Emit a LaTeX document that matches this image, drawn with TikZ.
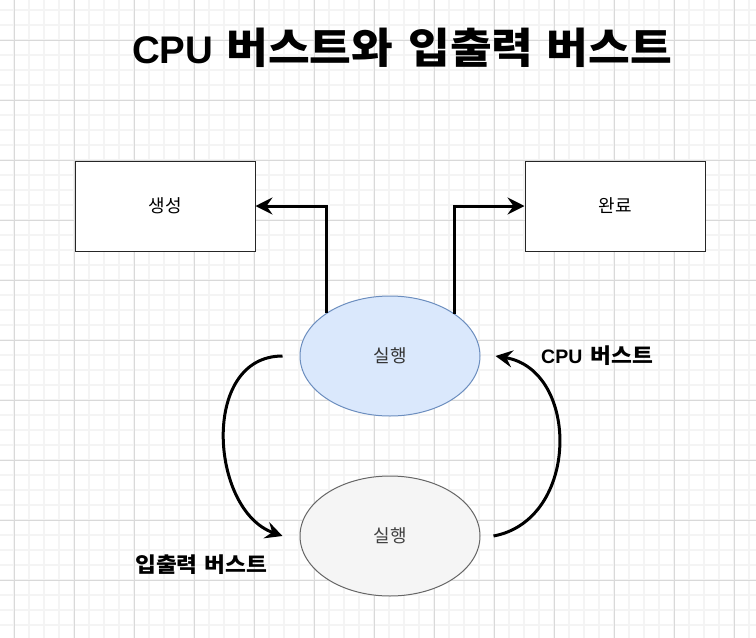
\documentclass[tikz,border=0pt]{standalone}
\usepackage{fontspec}
\usepackage{graphicx}
\setmainfont{Liberation Sans}
\newfontfamily\kr{Noto Sans CJK KR}
\newcommand{\kwide}[1]{\scalebox{1.08}[1]{#1}}
\usetikzlibrary{arrows.meta,shapes.geometric}
\definecolor{topfill}{HTML}{DAE8FC}
\definecolor{topline}{HTML}{6C8EBF}
\definecolor{botfill}{HTML}{F5F5F5}
\definecolor{botline}{HTML}{666666}
\definecolor{majgrid}{HTML}{D9D9D9}
\definecolor{mingrid}{HTML}{F4F4F4}
\tikzset{
  majorline/.style={draw=majgrid,line width=1pt},
  minorline/.style={draw=mingrid,line width=1.5pt},
  box/.style={draw=black!85,line width=1pt,fill=white,minimum width=180pt,minimum height=90pt,inner sep=0pt,font=\kr\fontsize{18}{20}\selectfont},
  oval/.style={ellipse,line width=1pt,minimum width=180pt,minimum height=120pt,inner sep=0pt,font=\kr\fontsize{18}{20}\selectfont},
  conn/.style={line width=3pt,-{Stealth[length=17pt,width=17pt,inset=6pt]}},
  lbl/.style={inner sep=0pt,font=\bfseries},
}
\begin{document}
\begin{tikzpicture}[x=1pt,y=-1pt]
\useasboundingbox (0,0) rectangle (756,638);
\fill[white] (0,0) rectangle (756,638);
% grid
\foreach \k in {0,...,51} { \draw[minorline] ({-1+15*\k},0) -- ({-1+15*\k},638); }
\foreach \k in {0,...,43} { \draw[minorline] (0,{-5+15*\k}) -- (756,{-5+15*\k}); }
\foreach \k in {0,...,12} { \draw[majorline] ({14+60*\k},0) -- ({14+60*\k},638); }
\foreach \k in {0,...,10} { \draw[majorline] (0,{40+60*\k}) -- (756,{40+60*\k}); }

% title
\node[lbl,anchor=west] (title) at (132,48) {\fontsize{38.5}{42}\selectfont CPU\hspace{13pt}{\kr\bfseries\fontsize{42}{44}\selectfont \kwide{버스트와}\hspace{15pt}\kwide{입출력}\hspace{13pt}\kwide{버스트}}};

% nodes
\node[box] (gen) at (165,206) {생성};
\node[box] (done) at (615,206) {완료};
\node[oval,draw=topline,fill=topfill,text=black!80] (run) at (390,356) {실행};
\node[oval,draw=botline,fill=botfill,text=black!75] (io) at (390,536) {실행};

% connectors
\draw[conn] (run.146.7) |- (gen.east);
\draw[conn] (run.33.3) |- (done.west);
\draw[conn] ([xshift=-17pt]run.west) .. controls (200,356) and (210,510) .. ([xshift=-17pt]io.west);
\draw[conn] ([xshift=13pt]io.east) .. controls (580,520) and (580,370) .. ([xshift=15pt]run.east);

% labels
\node[lbl,anchor=west] (cpulbl) at (541,356) {\fontsize{19.5}{22}\selectfont CPU\hspace{8pt}{\kr\bfseries\fontsize{21}{23}\selectfont \kwide{버스트}}};
\node[lbl,anchor=west] (iolbl) at (135,565) {\kr\bfseries\fontsize{21}{23}\selectfont \kwide{입출력}\hspace{7pt}\kwide{버스트}};
\end{tikzpicture}
\end{document}
